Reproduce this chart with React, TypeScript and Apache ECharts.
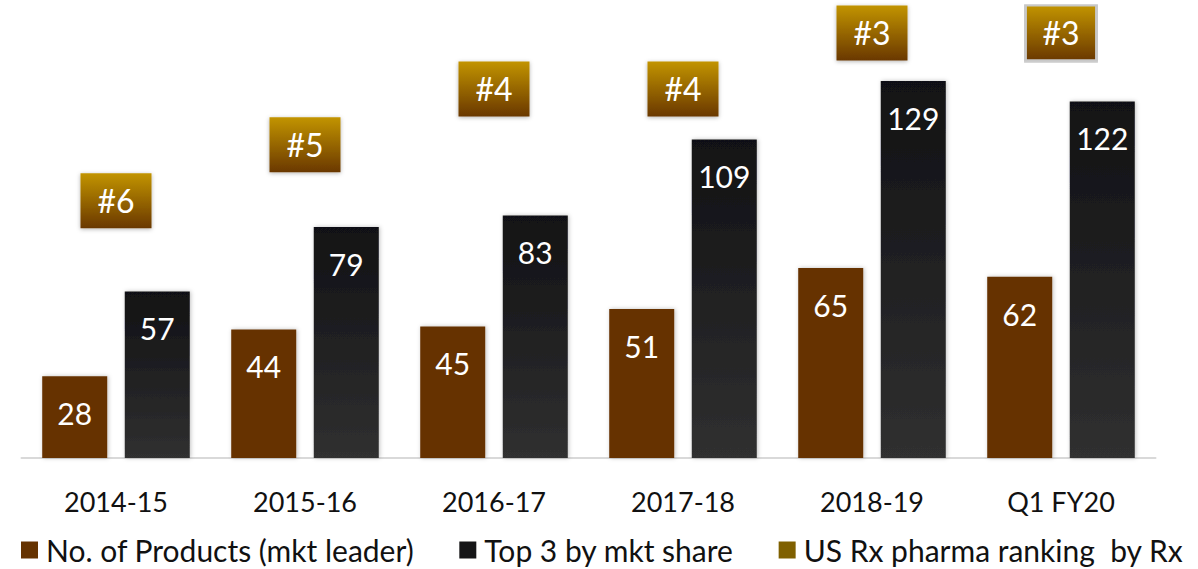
import React, { useEffect, useRef } from "react";
import * as echarts from "echarts";

const categories = ["2014-15", "2015-16", "2016-17", "2017-18", "2018-19", "Q1 FY20"];
const productsLeader = [28, 44, 45, 51, 65, 62];
const top3Share = [57, 79, 83, 109, 129, 122];
const usRxRanking = [6, 5, 4, 4, 3, 3];

const seriesNames = [
  "No. of Products (mkt leader)",
  "Top 3 by mkt share",
  "US Rx pharma ranking  by Rx",
];

const FONT = "Lato, 'Open Sans', sans-serif";

export default function App() {
  const ref = useRef<HTMLDivElement>(null);

  useEffect(() => {
    if (!ref.current) return;
    const chart = echarts.init(ref.current, undefined, { renderer: "svg" });

    const barLabel = {
      show: true,
      position: "insideTop",
      distance: 22,
      color: "#ffffff",
      fontSize: 30,
      fontFamily: FONT,
    };

    const boxGradient = () =>
      new echarts.graphic.LinearGradient(0, 0, 0, 1, [
        { offset: 0, color: "#c29400" },
        { offset: 1, color: "#6a3800" },
      ]);

    const rankData = usRxRanking.map((v, i) =>
      i === usRxRanking.length - 1
        ? {
            value: v,
            itemStyle: { borderColor: "#c8c8c8", borderWidth: 2.5, shadowBlur: 0 },
          }
        : { value: v }
    );

    chart.setOption({
      animation: false,
      backgroundColor: "#ffffff",
      grid: { left: 21.5, right: 42.5, top: 5, bottom: 111, containLabel: false },
      legend: {
        left: 21,
        top: 535,
        padding: 0,
        itemWidth: 17,
        itemHeight: 17,
        itemGap: 45,
        icon: "rect",
        textStyle: {
          fontSize: 30,
          lineHeight: 30,
          color: "#111111",
          fontFamily: FONT,
          padding: [0, 0, 0, 3],
        },
        data: [
          { name: seriesNames[0], itemStyle: { color: "#663300" } },
          { name: seriesNames[1], itemStyle: { color: "#151517" } },
          { name: seriesNames[2], itemStyle: { color: "#7f6000", opacity: 1 } },
        ],
      },
      xAxis: {
        type: "category",
        data: categories,
        axisLine: { show: true, lineStyle: { color: "#d9d9d9", width: 2 } },
        axisTick: { show: false },
        axisLabel: {
          margin: 30,
          fontSize: 27,
          color: "#111111",
          fontFamily: FONT,
        },
        splitLine: { show: false },
      },
      yAxis: [
        {
          type: "value",
          min: 0,
          max: 155,
          show: false,
          splitLine: { show: false },
        },
        {
          type: "value",
          min: 2.5,
          max: 10.6,
          inverse: true,
          show: false,
          splitLine: { show: false },
        },
      ],
      series: [
        {
          name: seriesNames[0],
          type: "bar",
          data: productsLeader,
          barWidth: 65,
          barGap: "27%",
          itemStyle: {
            color: "#663300",
            shadowColor: "rgba(0,0,0,0.25)",
            shadowBlur: 4,
            shadowOffsetX: 1,
          },
          label: barLabel,
        },
        {
          name: seriesNames[1],
          type: "bar",
          data: top3Share,
          barWidth: 65,
          itemStyle: {
            color: new echarts.graphic.LinearGradient(0, 0, 0, 1, [
              { offset: 0, color: "#111114" },
              { offset: 1, color: "#303030" },
            ]),
            shadowColor: "rgba(0,0,0,0.25)",
            shadowBlur: 4,
            shadowOffsetX: 1,
          },
          label: barLabel,
        },
        {
          name: seriesNames[2],
          type: "scatter",
          yAxisIndex: 1,
          data: rankData,
          symbol: "rect",
          symbolSize: [71, 55],
          itemStyle: {
            opacity: 1,
            color: boxGradient(),
            shadowColor: "rgba(0,0,0,0.3)",
            shadowBlur: 4,
            shadowOffsetY: 1,
          },
          label: {
            show: true,
            position: "inside",
            formatter: (p: any) => "#" + p.value,
            color: "#ffffff",
            fontSize: 32,
            fontFamily: FONT,
          },
        },
      ],
    });

    return () => chart.dispose();
  }, []);

  return (
    <div
      ref={ref}
      style={{ position: "fixed", left: 0, top: 0, width: 1198, height: 569 }}
    />
  );
}
